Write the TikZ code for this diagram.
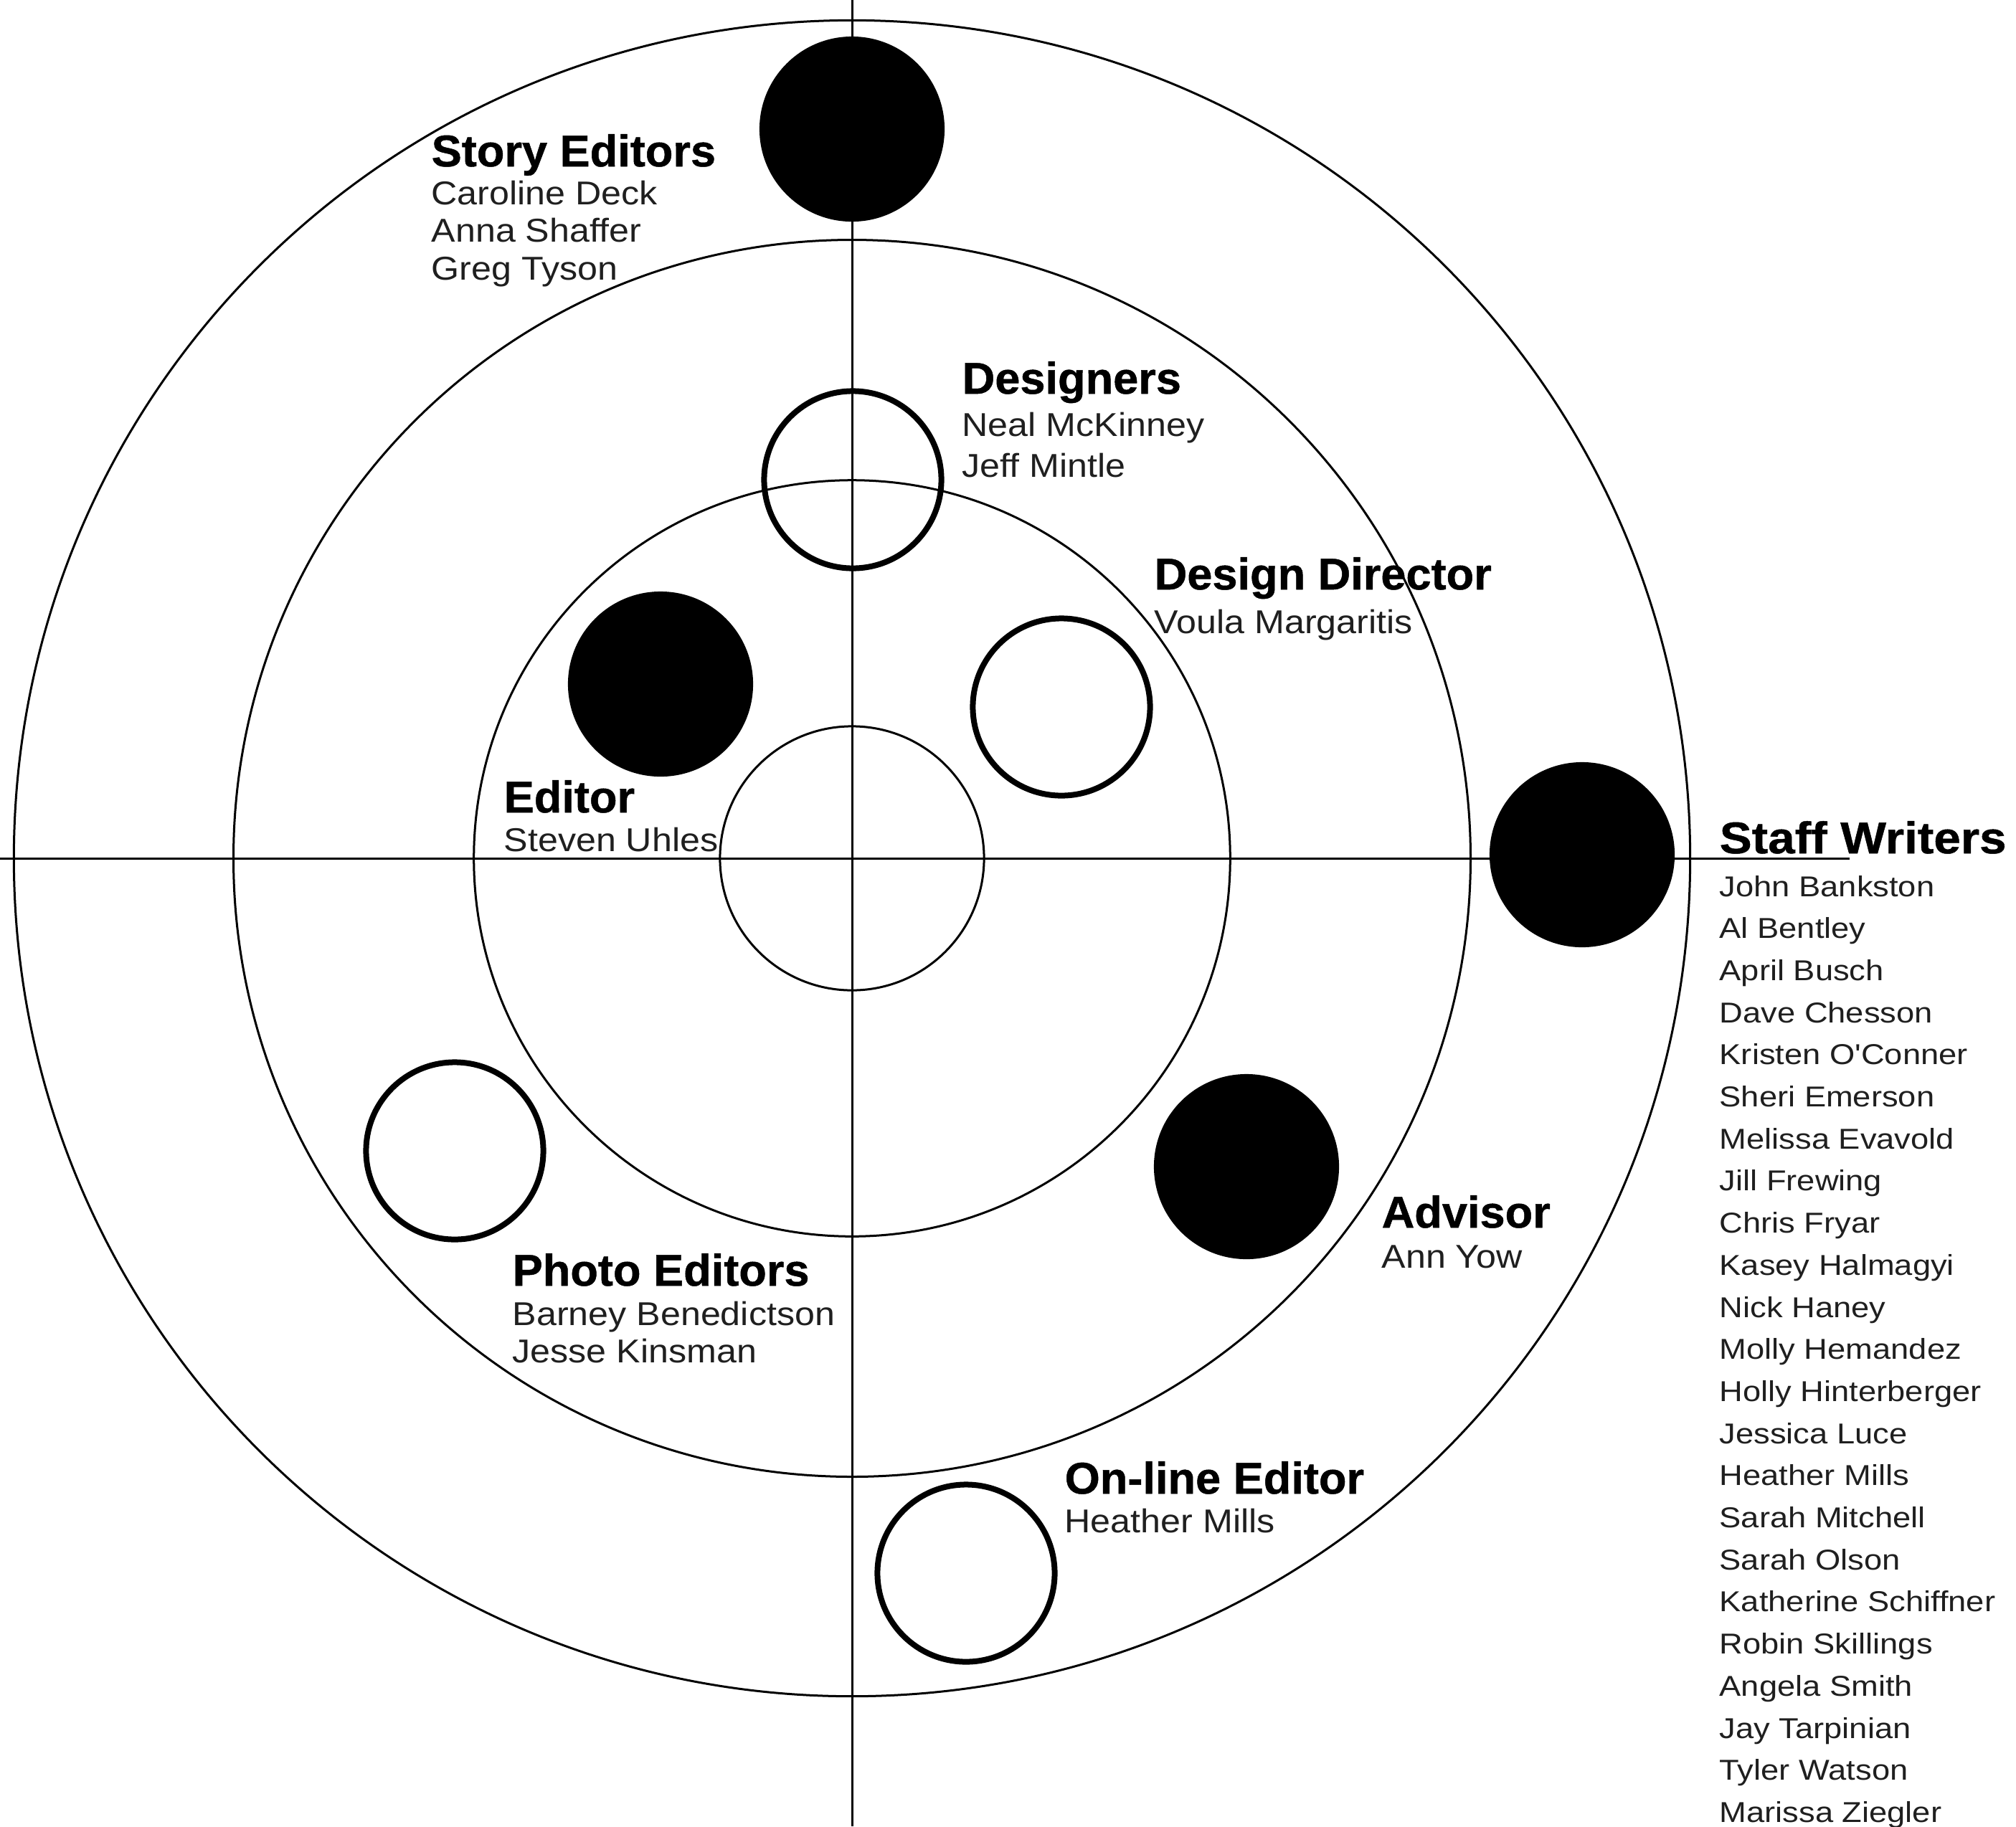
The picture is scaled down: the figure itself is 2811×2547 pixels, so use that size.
\documentclass[tikz,border=0pt]{standalone}
\usepackage{fontspec}
\setmainfont{Liberation Sans}
\newfontfamily\namefont[FakeStretch=1.09]{Liberation Sans}
\newfontfamily\stafffont[FakeStretch=1.13]{Liberation Sans}
\newfontfamily\headfont[FakeStretch=1.02,BoldFeatures={FakeBold=0.8}]{Liberation Sans}
\newfontfamily\wideheadfont[FakeStretch=1.09,BoldFeatures={FakeBold=0.8}]{Liberation Sans}
\definecolor{ink}{gray}{0.12}
\begin{document}
\begin{tikzpicture}[x=0.01cm,y=-0.01cm,
  thinline/.style={draw=black,line width=0.03cm},
  dotfill/.style={circle,fill=black,draw=none,inner sep=0pt,minimum size=2.58cm},
  dotopen/.style={circle,draw=black,line width=0.08cm,inner sep=0pt,minimum size=2.47cm},
  head/.style={anchor=base west,inner sep=0pt,text=black,font=\headfont\bfseries\fontsize{17.6pt}{20pt}\selectfont},
  widehead/.style={head,font=\wideheadfont\bfseries\fontsize{17.6pt}{20pt}\selectfont},
  nm/.style={anchor=base west,inner sep=0pt,text=ink,font=\namefont\fontsize{13.1pt}{15pt}\selectfont},
  staffnm/.style={anchor=base west,inner sep=0pt,text=ink,font=\stafffont\fontsize{11.4pt}{13pt}\selectfont}]
\useasboundingbox (0,0) rectangle (2811,2547);
\fill[white] (0,0) rectangle (2811,2547);
% centre and axes
\coordinate (C) at (1188,1197);
\coordinate (vtop) at (1188,0);
\coordinate (vbot) at (1188,2547);
\coordinate (hleft) at (0,1197);
\coordinate (hend) at (2579,1197);
\draw[thinline] (C) circle[radius=11.68cm];
\draw[thinline] (C) circle[radius=8.62cm];
\draw[thinline] (C) circle[radius=5.27cm];
\draw[thinline] (C) circle[radius=1.84cm];
\draw[thinline] (vtop) -- (vbot);
\draw[thinline] (hleft) -- (hend);
% member dots
\node[dotfill] (storydot) at (1188,180) {};
\node[dotfill] (editordot) at (921,954) {};
\node[dotfill] (staffdot) at (2206,1192) {};
\node[dotfill] (advisordot) at (1738,1627) {};
\node[dotopen] (designdot) at (1189,669) {};
\node[dotopen] (directordot) at (1480,986) {};
\node[dotopen] (photodot) at (634,1605) {};
\node[dotopen] (onlinedot) at (1347,2194) {};
% Story Editors
\node[head] (storyh) at (601,232) {Story Editors};
\node[nm] (story1) at (601,285) {Caroline Deck};
\node[nm] (story2) at (601,337) {Anna Shaffer};
\node[nm] (story3) at (601,390) {Greg Tyson};
% Designers
\node[head] (desh) at (1341,549) {Designers};
\node[nm] (des1) at (1341,608) {Neal McKinney};
\node[nm] (des2) at (1341,665) {Jeff Mintle};
% Design Director
\node[head] (dirh) at (1609,822) {Design Director};
\node[nm] (dir1) at (1609,883) {Voula Margaritis};
% Editor
\node[head] (edh) at (702,1133) {Editor};
\node[nm] (ed1) at (702,1187) {Steven Uhles};
% Advisor
\node[head] (advh) at (1926,1712) {Advisor};
\node[nm] (adv1) at (1926,1768) {Ann Yow};
% Photo Editors
\node[head] (phh) at (714,1793) {Photo Editors};
\node[nm] (ph1) at (714,1848) {Barney Benedictson};
\node[nm] (ph2) at (714,1900) {Jesse Kinsman};
% On-line Editor
\node[head] (onh) at (1484,2083) {On-line Editor};
\node[nm] (on1) at (1484,2137) {Heather Mills};
% Staff Writers
\node[widehead] (staffh) at (2397,1190) {Staff Writers};
\foreach \n [count=\i from 0] in {John Bankston,Al Bentley,April Busch,Dave Chesson,Kristen O'Conner,Sheri Emerson,Melissa Evavold,Jill Frewing,Chris Fryar,Kasey Halmagyi,Nick Haney,Molly Hemandez,Holly Hinterberger,Jessica Luce,Heather Mills,Sarah Mitchell,Sarah Olson,Katherine Schiffner,Robin Skillings,Angela Smith,Jay Tarpinian,Tyler Watson,Marissa Ziegler}{
  \node[staffnm] (staff\i) at (2397,{1250+58.7*\i}) {\n};
}
\end{tikzpicture}
\end{document}
